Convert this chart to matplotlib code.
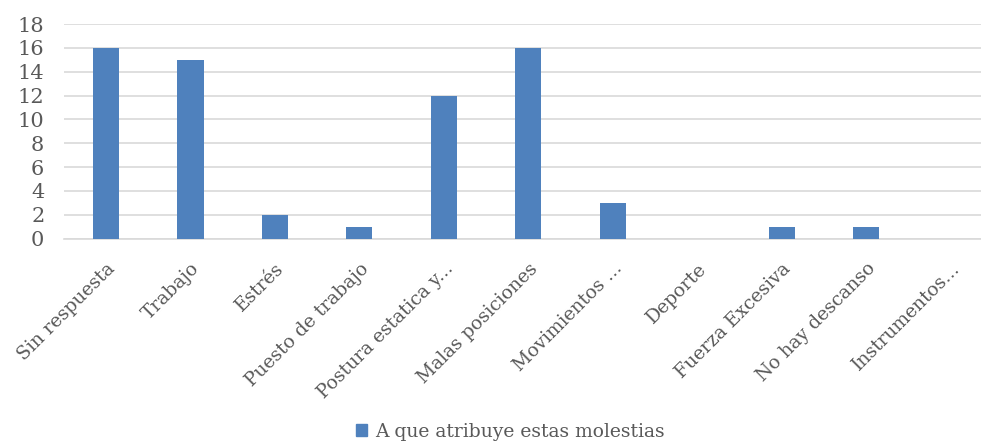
import matplotlib
matplotlib.use("Agg")
import matplotlib.pyplot as plt
from matplotlib.patches import Patch
import numpy as np

categories = ["Sin respuesta", "Trabajo", "Estrés", "Puesto de trabajo",
              "Postura estatica y...", "Malas posiciones", "Movimientos ...",
              "Deporte", "Fuerza Excesiva", "No hay descanso", "Instrumentos..."]
values = [16, 15, 2, 1, 12, 16, 3, 0, 1, 1, 0]
series_name = "A que atribuye estas molestias"
yticks = list(range(0, 19, 2))

bar_color = "#4F81BD"
text_color = "#595959"
grid_color = "#D9D9D9"
font = "DejaVu Serif"

fig = plt.figure(figsize=(9.81, 4.43), dpi=100)
ax = fig.add_axes([0.065, 0.4612, 0.947, 0.4846])

x = np.arange(len(categories))
ax.bar(x, values, width=0.31, color=bar_color, zorder=3)
ax.set_xlim(-0.5, len(categories) - 0.5)
ax.set_ylim(0, 18)
ax.set_yticks(yticks)
ax.set_yticklabels([str(t) for t in yticks], fontsize=15, color=text_color, family=font)
ax.yaxis.grid(True, color=grid_color, linewidth=1.2, zorder=0)
ax.set_axisbelow(True)
for s in ["top", "right", "left"]:
    ax.spines[s].set_visible(False)
ax.spines["bottom"].set_color(grid_color)
ax.spines["bottom"].set_linewidth(1.2)
ax.tick_params(axis="y", length=0, pad=14)
ax.tick_params(axis="x", length=0, pad=15)
ax.set_xticks(x)
ax.set_xticklabels(categories, rotation=45, ha="right", va="top",
                   rotation_mode="anchor", fontsize=13.5, color=text_color, family=font)

fig.legend(handles=[Patch(color=bar_color)], labels=[series_name],
           loc="center", bbox_to_anchor=(0.52, 0.025), frameon=False,
           prop={"family": font, "size": 13.5}, labelcolor=text_color,
           handlelength=0.6, handleheight=0.6, handletextpad=0.4)

fig.savefig("out.png", dpi=100)
